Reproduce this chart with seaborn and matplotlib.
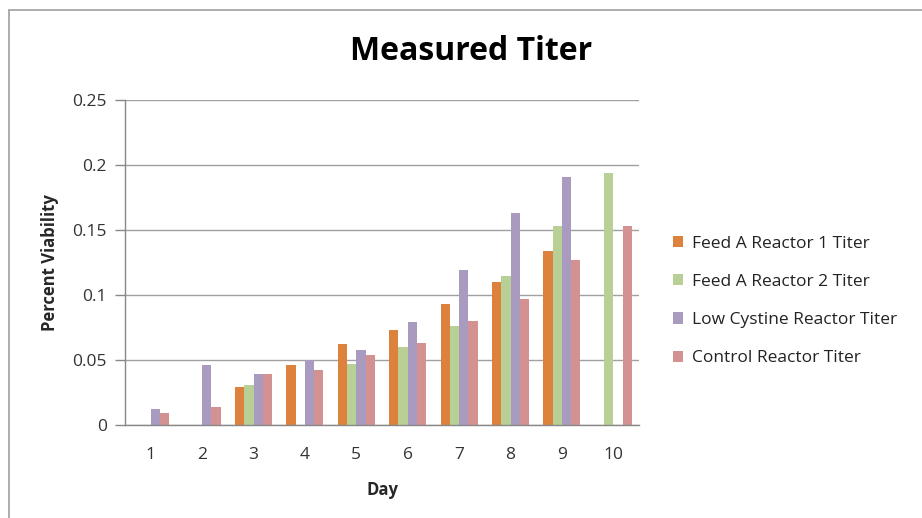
import numpy as np
import pandas as pd
import matplotlib
matplotlib.use('Agg')
import matplotlib.pyplot as plt
import seaborn as sns
from matplotlib.lines import Line2D

days = ['1', '2', '3', '4', '5', '6', '7', '8', '9', '10']
feed_a_r1 = [np.nan, np.nan, 0.029, 0.046, 0.062, 0.073, 0.093, 0.110, 0.134, np.nan]
feed_a_r2 = [np.nan, np.nan, 0.031, np.nan, 0.047, 0.060, 0.076, 0.115, 0.153, 0.194]
low_cystine = [0.012, 0.046, 0.039, 0.050, 0.058, 0.079, 0.119, 0.163, 0.191, np.nan]
control = [0.009, 0.014, 0.039, 0.042, 0.054, 0.063, 0.080, 0.097, 0.127, 0.153]

series_names = ['Feed A Reactor 1 Titer', 'Feed A Reactor 2 Titer',
                'Low Cystine Reactor Titer', 'Control Reactor Titer']
colors = ['#DD823C', '#B8CF96', '#A89BBF', '#D39291']

frames = []
for name, vals in zip(series_names, [feed_a_r1, feed_a_r2, low_cystine, control]):
    frames.append(pd.DataFrame({'Day': days, 'value': vals, 'series': name}))
df = pd.concat(frames, ignore_index=True)

sns.set_theme(style='white')
plt.rcParams['font.family'] = ['Open Sans', 'DejaVu Sans']

fig = plt.figure(figsize=(9.22, 5.18), dpi=100)
ax = fig.add_axes([125 / 922, 1 - 425 / 518, (639 - 125) / 922, 325 / 518])

sns.barplot(data=df, x='Day', y='value', hue='series', order=days,
            hue_order=series_names, palette=colors, width=0.72,
            saturation=1, linewidth=0, ax=ax, legend=True, errorbar=None)

ax.set_ylim(0, 0.25)
ax.set_xlim(-0.5, 9.5)
ax.set_yticks([0, 0.05, 0.1, 0.15, 0.2, 0.25])
ax.set_yticklabels(['0', '0.05', '0.1', '0.15', '0.2', '0.25'])
ax.set_xticks(np.arange(-0.5, 10, 1), minor=True)
ax.tick_params(axis='x', which='major', length=0, pad=16, labelsize=12.5, colors='#333333')
ax.tick_params(axis='x', which='minor', length=6, color='#888888', width=1)
ax.tick_params(axis='y', length=7, color='#888888', width=1, pad=6,
               labelsize=12.5, labelcolor='#333333', left=True)
ax.grid(axis='y', color='#A0A0A0', linewidth=1)
ax.set_axisbelow(True)
sns.despine(ax=ax)
for s in ['left', 'bottom']:
    ax.spines[s].set_color('#888888')
    ax.spines[s].set_linewidth(1)

ax.set_xlabel('Day', fontsize=12, fontweight='bold', labelpad=13)
ax.set_ylabel('Percent Viability', fontsize=12, fontweight='bold', labelpad=10)
fig.text(471 / 922, 1 - 51 / 518, 'Measured Titer', fontsize=23,
         fontweight='bold', ha='center', va='center', color='black')

handles, labels = ax.get_legend_handles_labels()
ax.get_legend().remove()
fig.legend(handles, labels, loc='center left',
           bbox_to_anchor=(657 / 922, 1 - 301 / 518), frameon=False,
           fontsize=12.5, handlelength=0.6, handleheight=0.6,
           handletextpad=0.5, labelspacing=1.28, labelcolor='#222222')

# outer chart border
fig.add_artist(Line2D([9 / 922, 9 / 922], [0, 1 - 10 / 518],
                      transform=fig.transFigure, color='#A0A0A0', linewidth=1.2))
fig.add_artist(Line2D([9 / 922, 1], [1 - 10 / 518, 1 - 10 / 518],
                      transform=fig.transFigure, color='#A0A0A0', linewidth=1.2))

fig.savefig('out.png', dpi=100)
